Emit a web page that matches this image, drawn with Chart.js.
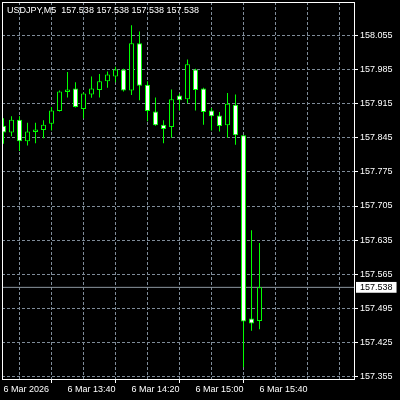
<!DOCTYPE html>
<html>
<head>
<meta charset="utf-8">
<script src="https://cdn.jsdelivr.net/npm/chart.js@4/dist/chart.umd.min.js"></script>
<style>
    html, body { margin: 0; padding: 0; background: #000; }
    #chartBox { width: 400px; height: 400px; background: #000; }
</style>
</head>
<body>
<div id="chartBox"><canvas id="priceChart" width="400" height="400"></canvas></div>
<script>
var symbolName = 'USDJPY';
var periodName = 'M5';
var headerValues = [157.538, 157.538, 157.538, 157.538];

var barTimes = ['13:00', '13:05', '13:10', '13:15', '13:20', '13:25', '13:30', '13:35', '13:40', '13:45', '13:50',
    '13:55', '14:00', '14:05', '14:10', '14:15', '14:20', '14:25', '14:30', '14:35', '14:40', '14:45', '14:50',
    '14:55', '15:00', '15:05', '15:10', '15:15', '15:20', '15:25', '15:30', '15:35', '15:40'];
var opens = [157.870, 157.856, 157.882, 157.838, 157.857, 157.861, 157.874, 157.900, 157.939, 157.946, 157.904,
    157.934, 157.943, 157.961, 157.971, 157.985, 157.942, 158.039, 157.954, 157.899, 157.872, 157.867, 157.932,
    157.924, 157.985, 157.946, 157.901, 157.891, 157.871, 157.913, 157.850, 157.474, 157.469];
var highs = [157.885, 157.889, 157.889, 157.876, 157.876, 157.881, 157.908, 157.942, 157.980, 157.959, 157.938,
    157.971, 157.976, 157.981, 157.991, 157.987, 158.076, 158.063, 157.961, 157.928, 157.881, 157.944, 157.936,
    158.006, 157.987, 157.948, 157.906, 157.898, 157.937, 157.934, 157.850, 157.655, 157.629];
var lows = [157.833, 157.848, 157.818, 157.829, 157.834, 157.844, 157.860, 157.899, 157.928, 157.907, 157.885,
    157.927, 157.928, 157.948, 157.959, 157.940, 157.933, 157.922, 157.879, 157.870, 157.834, 157.845, 157.901,
    157.916, 157.901, 157.872, 157.860, 157.858, 157.845, 157.831, 157.374, 157.449, 157.452];
var closes = [157.856, 157.882, 157.838, 157.858, 157.862, 157.872, 157.901, 157.940, 157.944, 157.908, 157.936,
    157.946, 157.961, 157.975, 157.985, 157.942, 158.039, 157.952, 157.900, 157.871, 157.863, 157.924, 157.922,
    157.996, 157.943, 157.898, 157.889, 157.869, 157.915, 157.850, 157.468, 157.464, 157.538];
var lastPrice = 157.538;

var priceTicks = [157.355, 157.425, 157.495, 157.565, 157.635, 157.705, 157.775, 157.845, 157.915, 157.985, 158.055];
var timeTickValues = [0, 40, 80, 120, 160];
var timeTickLabels = ['6 Mar 2026', '6 Mar 13:40', '6 Mar 14:20', '6 Mar 15:00', '6 Mar 15:40'];
var timeGridValues = [0, 20, 40, 60, 80, 100, 120, 140, 160, 180, 200];

var X_MIN = -0.9375, X_MAX = 219.6875;
var Y_MIN = 157.3478, Y_MAX = 158.1238;
var GREEN = '#00ff00';
var GRID = '#7f8c99';
var FONT = { family: '"Liberation Sans", Arial, sans-serif', size: 9 };

function toMinutes(t) {
    var p = t.split(':');
    return parseInt(p[0], 10) * 60 + parseInt(p[1], 10) - 13 * 60;
}

var xs = barTimes.map(toMinutes);
var wickData = xs.map(function(x, i) { return { x: x, y: [lows[i], highs[i]] }; });
var bodyData = xs.map(function(x, i) { return { x: x, y: [opens[i], closes[i]] }; });
var bodyFill = opens.map(function(o, i) { return closes[i] >= o ? '#000000' : '#ffffff'; });

/* white frame round the plot and the symbol line in the corner */
var framePlugin = {
    id: 'frame',
    afterDatasetsDraw: function(chart) {
        var a = chart.chartArea;
        var c = chart.ctx;
        c.save();
        c.strokeStyle = '#ffffff';
        c.lineWidth = 1;
        c.strokeRect(a.left + 0.5, a.top + 0.5, a.right - a.left - 1, a.bottom - a.top - 1);
        c.fillStyle = '#ffffff';
        c.font = FONT.size + 'px ' + FONT.family;
        c.textBaseline = 'middle';
        var txt = symbolName + ',' + periodName + '  ' + headerValues.map(function(v) { return v.toFixed(3); }).join(' ');
        c.fillText(txt, 7, 11);
        c.restore();
    }
};

new Chart(document.getElementById('priceChart').getContext('2d'), {
    type: 'bar',
    data: {
        datasets: [
            {
                label: 'body',
                data: bodyData,
                grouped: false,
                barThickness: 5,
                borderWidth: 1,
                borderColor: GREEN,
                borderSkipped: false,
                inflateAmount: 0,
                backgroundColor: bodyFill
            },
            {
                label: 'wick',
                data: wickData,
                grouped: false,
                barThickness: 1,
                borderWidth: 0,
                inflateAmount: 0,
                backgroundColor: GREEN
            },
            {
                type: 'line',
                label: 'price',
                data: [{ x: X_MIN, y: lastPrice }, { x: X_MAX, y: lastPrice }],
                borderColor: '#8c96a0',
                borderWidth: 1,
                pointRadius: 0
            }
        ]
    },
    options: {
        responsive: false,
        animation: false,
        layout: { padding: { left: 2, top: 2, right: 0, bottom: 0 } },
        plugins: {
            legend: { display: false },
            tooltip: { enabled: false }
        },
        scales: {
            x: {
                type: 'linear',
                min: X_MIN,
                max: X_MAX,
                offset: false,
                border: { display: false, dash: [3, 2] },
                grid: {
                    color: function(ctx) { return ctx.tick && ctx.tick.value === 0 ? 'transparent' : GRID; },
                    tickColor: function(ctx) {
                        return ctx.tick && timeTickValues.indexOf(ctx.tick.value) !== -1 ? '#ffffff' : 'transparent';
                    },
                    tickLength: 3
                },
                afterBuildTicks: function(scale) {
                    scale.ticks = timeGridValues.map(function(v) { return { value: v }; });
                },
                afterFit: function(scale) {
                    scale.height = 20;
                    scale.paddingLeft = 0;
                    scale.paddingRight = 0;
                },
                ticks: {
                    autoSkip: false,
                    maxRotation: 0,
                    align: 'start',
                    padding: 1,
                    color: '#ffffff',
                    font: FONT,
                    callback: function(value) {
                        var i = timeTickValues.indexOf(value);
                        return i === -1 ? '' : timeTickLabels[i];
                    }
                }
            },
            y: {
                type: 'linear',
                position: 'right',
                min: Y_MIN,
                max: Y_MAX,
                border: { display: false, dash: [3, 2] },
                grid: {
                    color: function(ctx) { return ctx.tick && ctx.tick.value === lastPrice ? 'transparent' : GRID; },
                    tickColor: function(ctx) { return ctx.tick && ctx.tick.value === lastPrice ? 'transparent' : '#ffffff'; },
                    tickLength: 3
                },
                afterBuildTicks: function(scale) {
                    scale.ticks = priceTicks.concat([lastPrice]).map(function(v) { return { value: v }; });
                },
                afterFit: function(scale) {
                    scale.width = 45;
                    scale.paddingTop = 0;
                    scale.paddingBottom = 0;
                },
                ticks: {
                    autoSkip: false,
                    padding: 2,
                    font: FONT,
                    color: function(ctx) { return ctx.tick && ctx.tick.value === lastPrice ? '#000000' : '#ffffff'; },
                    showLabelBackdrop: function(ctx) { return !!(ctx.tick && ctx.tick.value === lastPrice); },
                    backdropColor: '#ffffff',
                    backdropPadding: { top: 0, bottom: 0, left: 4, right: 4 },
                    callback: function(value) { return Number(value).toFixed(3); }
                }
            }
        }
    },
    plugins: [framePlugin]
});
</script>
</body>
</html>
